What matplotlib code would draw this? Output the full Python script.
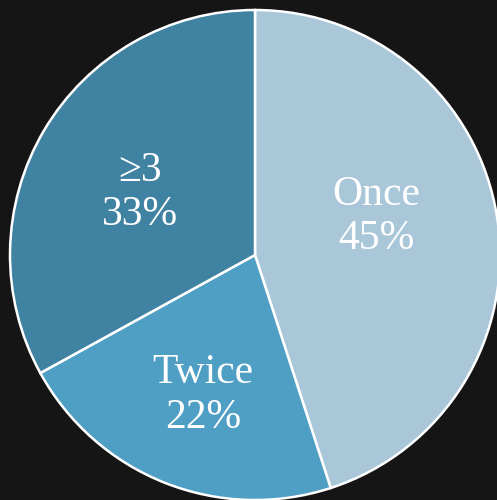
import numpy as np
import matplotlib.pyplot as plt

# Share of respondents by frequency
labels = ['Once', 'Twice', '\u22653']
shares = [45, 22, 33]
colors = ['#a9c7d9', '#4f9fc4', '#3f82a1']

# label placement: fraction of radius and angle offset from wedge middle (deg)
label_dist = [0.52, 0.61, 0.535]
label_turn = [8.4, 1.2, 2.3]

fig = plt.figure(figsize=(4.97, 5.0), dpi=100)
fig.patch.set_facecolor('#151515')
ax = fig.add_axes([0, 0, 1, 1])
ax.set_facecolor('#151515')

cx, cy, r = 255, 245, 245
wedges, _ = ax.pie(shares, colors=colors, startangle=90, counterclock=False,
                   center=(cx, cy), radius=r, frame=True,
                   wedgeprops=dict(edgecolor='white', linewidth=1.8))
ax.set_xlim(0, 497)
ax.set_ylim(0, 500)
ax.set_aspect('equal')
ax.axis('off')

for w, lab, pct, d, t in zip(wedges, labels, shares, label_dist, label_turn):
    ang = np.deg2rad((w.theta1 + w.theta2) / 2 + t)
    x = cx + d * r * np.cos(ang)
    y = cy + d * r * np.sin(ang)
    ax.text(x, y, f'{lab}\n{pct}%', ha='center', va='center', color='white',
            fontsize=30, family='Liberation Serif', linespacing=1.2)

fig.savefig('out.png', dpi=100, facecolor=fig.get_facecolor())
